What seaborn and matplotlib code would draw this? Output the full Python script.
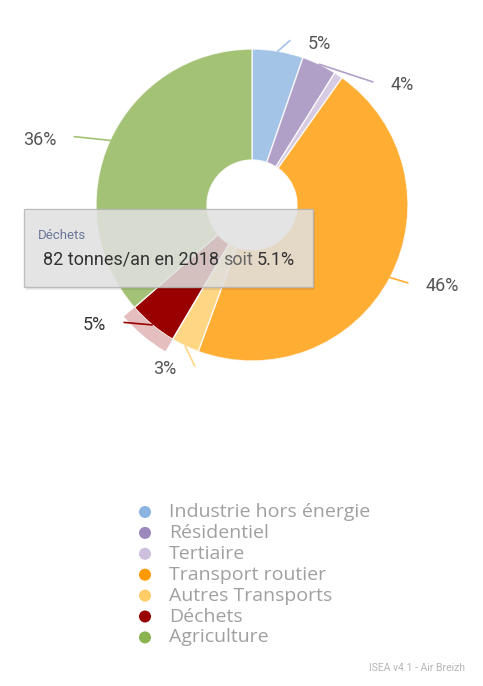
from __future__ import annotations

import matplotlib
matplotlib.use("Agg")
import matplotlib.pyplot as plt
import numpy as np
import pandas as pd
import seaborn as sns
from matplotlib.patches import Rectangle, Wedge


# Emissions par secteur (parts en %)
SECTEURS = ["Industrie hors énergie", "Résidentiel", "Tertiaire", "Transport routier",
            "Autres Transports", "Déchets", "Agriculture"]
PARTS = [5.3, 3.6, 0.9, 45.8, 2.9, 5.1, 36.4]
COULEURS = ["#8cb4e1", "#9d88bb", "#cdbfdd", "#ff9900", "#ffcc66", "#990000", "#8cb352"]

# tooltip du secteur survolé
SECTEUR_SURVOLE = "Déchets"
TONNES = 82
ANNEE = 2018

W, H = 483, 686
CX, CY, R, R_TROU = 252, 205, 156, 45

# position des étiquettes (angle horaire depuis midi, rayon relatif)
POS_ETIQUETTES = [(22.7, 1.122), (51.4, 1.234), None, (113.0, 1.327),
                  (207.9, 1.19), (232.6, 1.271), (287.1, 1.425)]


def set_style() -> None:
    sns.set_theme(style="white")
    plt.rcParams.update({
        "font.family": ["Roboto", "DejaVu Sans"],
        "figure.facecolor": "white",
        "savefig.facecolor": "white",
    })


def polar(theta_deg: float, rho: float) -> tuple[float, float]:
    t = np.deg2rad(theta_deg)
    return rho * np.sin(t), rho * np.cos(t)


def write_pieces(fig, x_px, y_px, pieces, size) -> None:
    renderer = fig.canvas.get_renderer()
    x = x_px
    for txt, color in pieces:
        t = fig.text(x / W, 1 - y_px / H, txt, fontsize=size, color=color,
                     va="baseline", ha="left", zorder=12)
        x += t.get_window_extent(renderer).width + size * 0.3


def build_figure() -> plt.Figure:
    df = pd.DataFrame({"secteur": SECTEURS, "part": PARTS, "couleur": COULEURS})
    hi = SECTEURS.index(SECTEUR_SURVOLE)

    fig = plt.figure(figsize=(W / 100, H / 100), dpi=100)
    renderer = fig.canvas.get_renderer()

    # --- donut
    ax = fig.add_axes([(CX - R) / W, (H - CY - R) / H, 2 * R / W, 2 * R / H])
    wedges, _ = ax.pie(df["part"], colors=df["couleur"], startangle=90,
                       counterclock=False, radius=1,
                       wedgeprops=dict(width=1 - R_TROU / R, edgecolor="white",
                                       linewidth=1.0))
    for i, w in enumerate(wedges):
        if i != hi:
            w.set_alpha(0.8)
    ax.set_xlim(-1, 1)
    ax.set_ylim(-1, 1)
    ax.set_aspect("equal")
    ax.axis("off")

    # halo du secteur survolé
    wh = wedges[hi]
    ax.add_patch(Wedge((0, 0), 1 + 14 / R, wh.theta1, wh.theta2, width=14 / R,
                       facecolor=COULEURS[hi], alpha=0.25, lw=0))

    # étiquettes + connecteurs
    cum = np.cumsum([0] + PARTS) / sum(PARTS) * 360
    for i, (p, pos) in enumerate(zip(PARTS, POS_ETIQUETTES)):
        if pos is None:
            continue
        mid = (cum[i] + cum[i + 1]) / 2
        x0, y0 = polar(mid, 1.0)
        xl, yl = polar(*pos)
        t = ax.text(xl, yl, f"{p:.0f}%", ha="center", va="center", fontsize=13,
                    color="#333333" if i == hi else "#555555", clip_on=False)
        half = t.get_window_extent(renderer).width / 2
        side = 1 if xl > 0 else -1
        x1 = xl - side * (half + 18) / R
        y1 = yl + 3 / R
        ax.plot([x0, x1], [y0, y1], color=COULEURS[i], lw=1.2, clip_on=False,
                alpha=1.0 if i == hi else 0.8, zorder=5,
                solid_capstyle="round")

    # --- tooltip
    tx0, ty0, tx1, ty1 = 24, 209, 313, 287
    fig.add_artist(Rectangle(((tx0 + 2) / W, 1 - (ty1 + 3) / H), (tx1 - tx0) / W,
                             (ty1 - ty0) / H, transform=fig.transFigure,
                             facecolor="#000000", alpha=0.08, lw=0, zorder=10))
    fig.add_artist(Rectangle((tx0 / W, 1 - ty1 / H), (tx1 - tx0) / W,
                             (ty1 - ty0) / H, transform=fig.transFigure,
                             facecolor="#e3e3e3", alpha=0.85, edgecolor="#b5b5b5",
                             lw=1.0, zorder=11))
    fig.text(38 / W, 1 - 239 / H, SECTEUR_SURVOLE, fontsize=9.5, color="#6b7799",
             va="baseline", zorder=12)
    part_hi = PARTS[hi]
    write_pieces(fig, 43, 265, [
        (f"{TONNES} tonnes/an en {ANNEE}", "#333333"),
        ("soit", "#666666"),
        (f"{part_hi:.1f}%", "#333333"),
    ], 13)

    # --- légende (pastilles seaborn)
    row_h = 20.9
    top = 512 - row_h / 2
    ax_leg = fig.add_axes([130 / W, 1 - (top + 7 * row_h) / H, 320 / W, 7 * row_h / H])
    df["rang"] = np.arange(len(df))
    df["x"] = 0
    sns.scatterplot(data=df, x="x", y="rang", hue="secteur", palette=COULEURS,
                    s=75, edgecolor="none", legend=False, ax=ax_leg, clip_on=False)
    ax_leg.set_xlim(-15, 305)
    ax_leg.set_ylim(len(df) - 0.5, -0.5)
    for _, row in df.iterrows():
        ax_leg.text(24, row["rang"], row["secteur"], fontsize=14, color="#a0a0a0",
                    va="center", ha="left", family=["Open Sans", "DejaVu Sans"])
    ax_leg.axis("off")

    fig.text(465 / W, 1 - 668 / H, "ISEA v4.1 - Air Breizh", fontsize=7.5,
             color="#b5b5b5", ha="right", va="center")
    return fig


def main() -> None:
    set_style()
    fig = build_figure()
    fig.savefig("out.png", dpi=100, facecolor="white")


if __name__ == "__main__":
    main()
